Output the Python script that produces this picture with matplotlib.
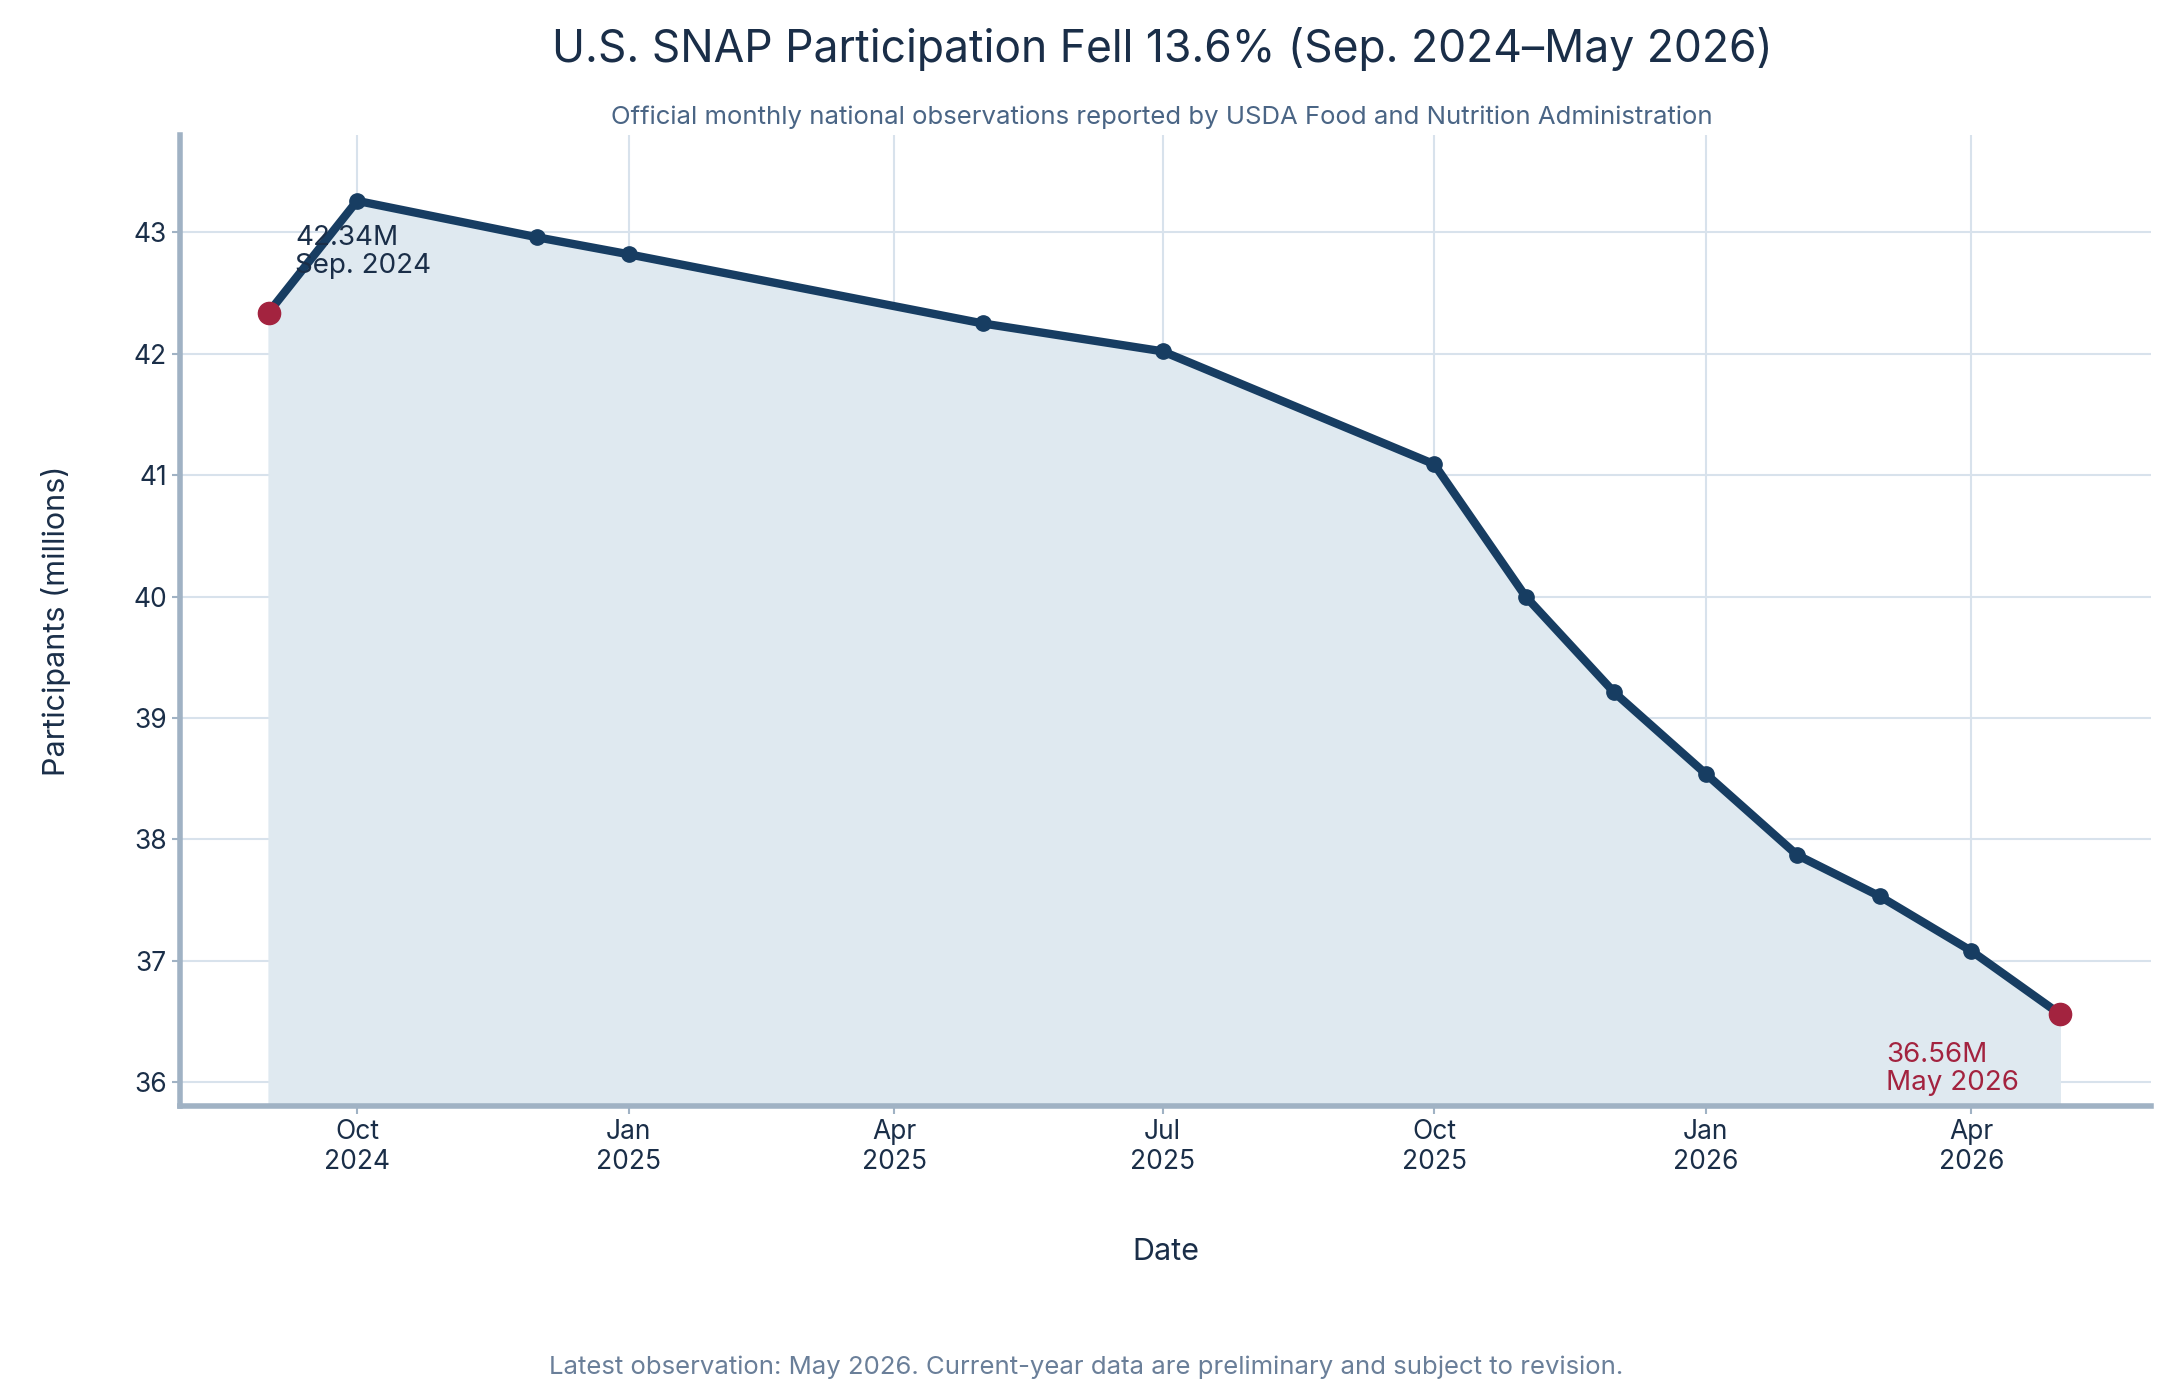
import numpy as np
import matplotlib
matplotlib.use('Agg')
import matplotlib.pyplot as plt
from datetime import datetime

plt.rcParams['font.family'] = ['Inter', 'DejaVu Sans']

dates = ['2024-09-01', '2024-10-01', '2024-12-01', '2025-01-01', '2025-05-01', '2025-07-01',
         '2025-10-01', '2025-11-01', '2025-12-01', '2026-01-01', '2026-02-01', '2026-03-01',
         '2026-04-01', '2026-05-01']
values = [42.34, 43.26, 42.96, 42.82, 42.25, 42.02, 41.09, 40.00, 39.21, 38.54, 37.87, 37.53, 37.08, 36.56]
tick_dates = ['2024-10-01', '2025-01-01', '2025-04-01', '2025-07-01', '2025-10-01', '2026-01-01', '2026-04-01']
tick_labels = ['Oct\n2024', 'Jan\n2025', 'Apr\n2025', 'Jul\n2025', 'Oct\n2025', 'Jan\n2026', 'Apr\n2026']

x = [datetime.strptime(d, '%Y-%m-%d') for d in dates]
xt = [datetime.strptime(d, '%Y-%m-%d') for d in tick_dates]

navy = '#173d62'
red = '#a3233f'
dark = '#1a2e48'

fig = plt.figure(figsize=(21.72, 13.95), dpi=100)
ax = fig.add_axes([130/1568, 1-793/1000, (1553-130)/1568, (793-97)/1000])

ymin = 35.8
ax.fill_between(x, values, ymin, color='#dfe9f0', zorder=1)
ax.plot(x, values, color=navy, lw=6, marker='o', ms=11, zorder=3)
ax.plot([x[0], x[-1]], [values[0], values[-1]], 'o', color=red, ms=16, zorder=4)

ax.annotate('%.2fM\nSep. 2024' % values[0], (x[0], values[0]), xytext=(19, 24),
            textcoords='offset points', fontsize=20, color=dark, va='bottom', linespacing=1.1)
ax.annotate('%.2fM\nMay 2026' % values[-1], (x[-1], values[-1]), xytext=(-125, -20),
            textcoords='offset points', fontsize=20, color=red, va='top', linespacing=1.1)

ax.set_xlim(datetime(2024, 8, 2), datetime(2026, 6, 1))
ax.set_ylim(ymin, 43.8)
ax.set_xticks(xt)
ax.set_xticklabels(tick_labels)
ax.set_yticks(range(36, 44))
ax.tick_params(labelsize=19, colors=dark, length=6, width=1.5)
ax.tick_params(axis='both', color='#a0b2c4')
ax.grid(True, color='#d8e2ec', lw=1.5, zorder=0)
ax.set_axisbelow(True)
for s in ['top', 'right']:
    ax.spines[s].set_visible(False)
for s in ['left', 'bottom']:
    ax.spines[s].set_color('#a0b2c4')
    ax.spines[s].set_linewidth(4)

ax.set_xlabel('Date', fontsize=22, color=dark, labelpad=45)
ax.set_ylabel('Participants (millions)', fontsize=22, color=dark, labelpad=45)

fig.text(0.535, 0.965, 'U.S. SNAP Participation Fell 13.6% (Sep. 2024\u2013May 2026)',
         ha='center', va='center', fontsize=32, color=dark)
fig.text(0.535, 0.916, 'Official monthly national observations reported by USDA Food and Nutrition Administration',
         ha='center', va='center', fontsize=18.5, color='#4a6585')
fig.text(0.5, 0.02, 'Latest observation: May 2026. Current-year data are preliminary and subject to revision.',
         ha='center', va='center', fontsize=18.5, color='#6a7f99')

fig.savefig('out.png', dpi=100)
